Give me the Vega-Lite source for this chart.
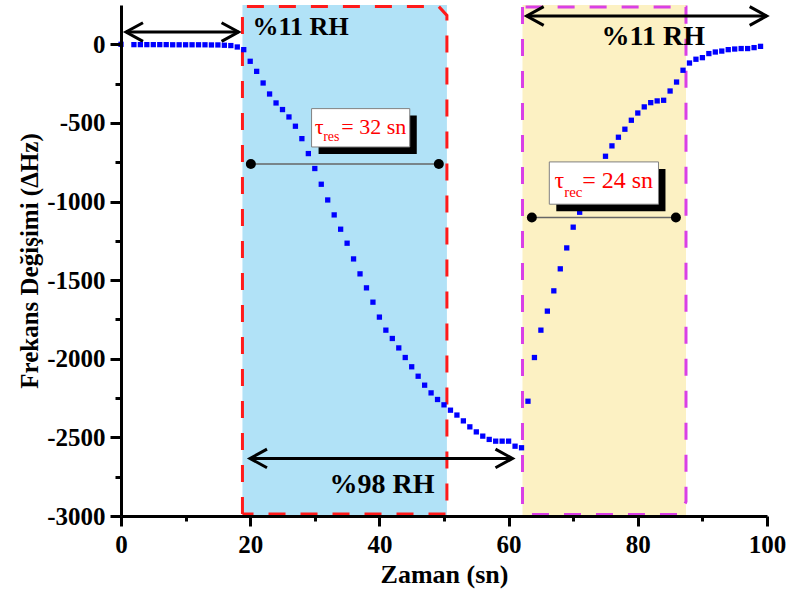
{
  "$schema": "https://vega.github.io/schema/vega-lite/v6.json",
  "width": 646,
  "height": 511,
  "autosize": {"type": "none"},
  "padding": {"left": 121, "top": 5, "right": 25, "bottom": 81},
  "background": "white",
  "config": {"view": {"stroke": null}, "font": "Liberation Serif"},
  "datasets": {
    "pts": [
      {"t": 0, "f": 0}, {"t": 2, "f": -2}, {"t": 3, "f": -2}, {"t": 4, "f": -2}, {"t": 5, "f": -2}, {"t": 6, "f": -2}, {"t": 7, "f": -2}, {"t": 8, "f": -3}, {"t": 9, "f": -3}, {"t": 10, "f": -3}, {"t": 11, "f": -3}, {"t": 12, "f": -3}, {"t": 13, "f": -3}, {"t": 14, "f": -4}, {"t": 15, "f": -4}, {"t": 16, "f": -6}, {"t": 17, "f": -8},
      {"t": 18, "f": -17}, {"t": 19, "f": -34}, {"t": 20, "f": -108}, {"t": 21, "f": -172}, {"t": 22, "f": -246}, {"t": 23, "f": -316}, {"t": 24, "f": -373}, {"t": 25, "f": -415}, {"t": 26, "f": -462}, {"t": 27, "f": -521}, {"t": 28, "f": -600}, {"t": 29, "f": -695}, {"t": 30, "f": -790}, {"t": 31, "f": -890}, {"t": 32, "f": -990}, {"t": 33, "f": -1085}, {"t": 34, "f": -1176}, {"t": 35, "f": -1265}, {"t": 36, "f": -1365}, {"t": 37, "f": -1460}, {"t": 38, "f": -1549}, {"t": 39, "f": -1640}, {"t": 40, "f": -1735}, {"t": 41, "f": -1818}, {"t": 42, "f": -1871}, {"t": 43, "f": -1931}, {"t": 44, "f": -1992}, {"t": 45, "f": -2051}, {"t": 46, "f": -2111}, {"t": 47, "f": -2168}, {"t": 48, "f": -2217}, {"t": 49, "f": -2259}, {"t": 50, "f": -2293}, {"t": 51, "f": -2327}, {"t": 52, "f": -2358}, {"t": 53, "f": -2395}, {"t": 54, "f": -2433}, {"t": 55, "f": -2465}, {"t": 56, "f": -2492}, {"t": 57, "f": -2513}, {"t": 58, "f": -2524}, {"t": 59, "f": -2524}, {"t": 60, "f": -2524}, {"t": 61, "f": -2556}, {"t": 62, "f": -2566},
      {"t": 63, "f": -2270}, {"t": 64, "f": -1992}, {"t": 65, "f": -1818}, {"t": 66, "f": -1697}, {"t": 67, "f": -1568}, {"t": 68, "f": -1428}, {"t": 69, "f": -1295}, {"t": 70, "f": -1163}, {"t": 71, "f": -1068}, {"t": 72, "f": -975}, {"t": 73, "f": -885}, {"t": 74, "f": -797}, {"t": 75, "f": -712}, {"t": 76, "f": -646}, {"t": 77, "f": -591}, {"t": 78, "f": -540}, {"t": 79, "f": -483}, {"t": 80, "f": -437}, {"t": 81, "f": -398}, {"t": 82, "f": -371}, {"t": 83, "f": -360}, {"t": 84, "f": -356}, {"t": 85, "f": -297}, {"t": 86, "f": -240}, {"t": 87, "f": -165}, {"t": 88, "f": -119}, {"t": 89, "f": -95}, {"t": 90, "f": -85}, {"t": 91, "f": -59}, {"t": 92, "f": -49}, {"t": 93, "f": -43}, {"t": 94, "f": -34}, {"t": 95, "f": -30}, {"t": 96, "f": -27}, {"t": 97, "f": -27}, {"t": 98, "f": -21}, {"t": 99, "f": -13}
    ],
    "zones": [
      {"zone": "res", "t1": 18.8, "t2": 50.45, "f1": -3000, "f2": 250},
      {"zone": "rec", "t1": 62.15, "t2": 87.46, "f1": -3000, "f2": 250}
    ],
    "borders": [
      {"zone": "res", "o": 1, "t": 18.8, "f": -2988},
      {"zone": "res", "o": 2, "t": 18.8, "f": 240},
      {"zone": "res", "o": 3, "t": 49.2, "f": 240},
      {"zone": "res", "o": 4, "t": 50.45, "f": 184},
      {"zone": "res", "o": 5, "t": 50.45, "f": -2988},
      {"zone": "res", "o": 6, "t": 18.8, "f": -2988},
      {"zone": "rec", "o": 1, "t": 62.15, "f": 237},
      {"zone": "rec", "o": 2, "t": 62.15, "f": -2941},
      {"zone": "rec", "o": 3, "t": 63.55, "f": -2990},
      {"zone": "rec", "o": 4, "t": 86.5, "f": -2990},
      {"zone": "rec", "o": 5, "t": 87.46, "f": -2909},
      {"zone": "rec", "o": 6, "t": 87.46, "f": 237},
      {"zone": "rec", "o": 7, "t": 62.15, "f": 237}
    ],
    "arrows": [
      {"t1": 0.77, "t2": 18.2, "f": 78},
      {"t1": 62.8, "t2": 99.95, "f": 180},
      {"t1": 19.97, "t2": 60.6, "f": -2634}
    ],
    "rh": [
      {"size": "small", "t": 27.8, "f": 57, "text": "%11 RH"},
      {"size": "big", "t": 82.4, "f": -6, "text": "%11 RH"},
      {"size": "big", "t": 40.4, "f": -2854, "text": "%98 RH"}
    ],
    "tau": [
      {"zone": "res", "t1": 20.1, "t2": 49.2, "f": -761},
      {"zone": "rec", "t1": 63.6, "t2": 85.9, "f": -1102}
    ],
    "boxes": [
      {"zone": "res", "t1": 29.5, "t2": 44.7, "f1": -409, "f2": -653},
      {"zone": "rec", "t1": 66.3, "t2": 83.2, "f1": -748, "f2": -1017}
    ],
    "tautext": [
      {"zone": "res", "part": "main", "t": 30.0, "f": -568, "text": "τ"},
      {"zone": "res", "part": "sub", "t": 31.3, "f": -612, "text": "res"},
      {"zone": "res", "part": "main", "t": 34.1, "f": -568, "text": "= 32 sn"},
      {"zone": "rec", "part": "main", "t": 67.1, "f": -917, "text": "τ"},
      {"zone": "rec", "part": "sub", "t": 68.6, "f": -972, "text": "rec"},
      {"zone": "rec", "part": "main", "t": 71.4, "f": -917, "text": "= 24 sn"}
    ]
  },
  "encoding": {
    "x": {
      "type": "quantitative",
      "scale": {"domain": [0, 100], "nice": false, "zero": false},
      "axis": {
        "title": "Zaman (sn)",
        "values": [0, 10, 20, 30, 40, 50, 60, 70, 80, 90, 100],
        "labelExpr": "datum.value % 20 === 0 ? '' + datum.value : ''",
        "tickSize": {"condition": {"test": "datum.value % 20 !== 0", "value": 5}, "value": 10},
        "tickWidth": 3, "tickColor": "black",
        "domainWidth": 3, "domainColor": "black",
        "labelFont": "Liberation Serif", "labelFontWeight": "bold", "labelFontSize": 25, "labelColor": "black", "labelPadding": 6,
        "titleFont": "Liberation Serif", "titleFontWeight": "bold", "titleFontSize": 26, "titleColor": "black", "titlePadding": 4,
        "grid": false, "zindex": 1, "labelFlush": false, "labelOverlap": false
      }
    },
    "y": {
      "type": "quantitative",
      "scale": {"domain": [-3000, 250], "nice": false, "zero": false},
      "axis": {
        "title": "Frekans Değişimi (ΔHz)",
        "values": [-3000, -2750, -2500, -2250, -2000, -1750, -1500, -1250, -1000, -750, -500, -250, 0],
        "labelExpr": "datum.value % 500 === 0 ? '' + datum.value : ''",
        "tickSize": {"condition": {"test": "datum.value % 500 !== 0", "value": 6}, "value": 11},
        "tickWidth": 3, "tickColor": "black",
        "domainWidth": 3, "domainColor": "black",
        "labelFont": "Liberation Serif", "labelFontWeight": "bold", "labelFontSize": 25, "labelColor": "black", "labelPadding": 5,
        "titleFont": "Liberation Serif", "titleFontWeight": "bold", "titleFontSize": 25, "titleColor": "black", "titlePadding": 4,
        "grid": false, "zindex": 1, "labelFlush": false, "labelOverlap": false
      }
    }
  },
  "layer": [
    {
      "data": {"name": "zones"},
      "transform": [{"filter": "datum.zone === 'res'"}],
      "mark": {"type": "rect", "color": "#b1e2f7"},
      "encoding": {"x": {"field": "t1"}, "x2": {"field": "t2"}, "y": {"field": "f1"}, "y2": {"field": "f2"}}
    },
    {
      "data": {"name": "zones"},
      "transform": [{"filter": "datum.zone === 'rec'"}],
      "mark": {"type": "rect", "color": "#fcf1c3"},
      "encoding": {"x": {"field": "t1"}, "x2": {"field": "t2"}, "y": {"field": "f1"}, "y2": {"field": "f2"}}
    },
    {
      "data": {"name": "borders"},
      "transform": [{"filter": "datum.zone === 'res'"}],
      "mark": {"type": "line", "color": "#ff1a1a", "strokeWidth": 3, "strokeDash": [17, 15]},
      "encoding": {"x": {"field": "t"}, "y": {"field": "f"}, "order": {"field": "o"}}
    },
    {
      "data": {"name": "borders"},
      "transform": [{"filter": "datum.zone === 'rec'"}],
      "mark": {"type": "line", "color": "#d93fe6", "strokeWidth": 3, "strokeDash": [17, 15]},
      "encoding": {"x": {"field": "t"}, "y": {"field": "f"}, "order": {"field": "o"}}
    },
    {
      "data": {"name": "arrows"},
      "mark": {"type": "rule", "color": "black", "strokeWidth": 3},
      "encoding": {"x": {"field": "t1"}, "x2": {"field": "t2"}, "y": {"field": "f"}}
    },
    {
      "data": {"name": "arrows"},
      "mark": {"type": "point", "shape": "M -1 -0.55 L 0 0 L -1 0.55", "size": 1156, "filled": false, "stroke": "black", "strokeWidth": 3, "opacity": 1, "angle": 180},
      "encoding": {"x": {"field": "t1"}, "y": {"field": "f"}}
    },
    {
      "data": {"name": "arrows"},
      "mark": {"type": "point", "shape": "M -1 -0.55 L 0 0 L -1 0.55", "size": 1156, "filled": false, "stroke": "black", "strokeWidth": 3, "opacity": 1, "angle": 0},
      "encoding": {"x": {"field": "t2"}, "y": {"field": "f"}}
    },
    {
      "data": {"name": "tau"},
      "mark": {"type": "rule", "color": "#666666", "strokeWidth": 1.5},
      "encoding": {"x": {"field": "t1"}, "x2": {"field": "t2"}, "y": {"field": "f"}}
    },
    {
      "data": {"name": "pts"},
      "mark": {"type": "point", "shape": "square", "filled": true, "color": "#0000ff", "size": 28, "opacity": 1},
      "encoding": {"x": {"field": "t"}, "y": {"field": "f"}}
    },
    {
      "data": {"name": "tau"},
      "mark": {"type": "point", "shape": "circle", "filled": true, "color": "black", "size": 100, "opacity": 1},
      "encoding": {"x": {"field": "t1"}, "y": {"field": "f"}}
    },
    {
      "data": {"name": "tau"},
      "mark": {"type": "point", "shape": "circle", "filled": true, "color": "black", "size": 100, "opacity": 1},
      "encoding": {"x": {"field": "t2"}, "y": {"field": "f"}}
    },
    {
      "data": {"name": "boxes"},
      "mark": {"type": "rect", "color": "black", "xOffset": 7, "x2Offset": 7, "yOffset": 7, "y2Offset": 7},
      "encoding": {"x": {"field": "t1"}, "x2": {"field": "t2"}, "y": {"field": "f1"}, "y2": {"field": "f2"}}
    },
    {
      "data": {"name": "boxes"},
      "mark": {"type": "rect", "fill": "white", "stroke": "#808080", "strokeWidth": 1},
      "encoding": {"x": {"field": "t1"}, "x2": {"field": "t2"}, "y": {"field": "f1"}, "y2": {"field": "f2"}}
    },
    {
      "data": {"name": "tautext"},
      "transform": [{"filter": "datum.zone === 'res' && datum.part === 'main'"}],
      "mark": {"type": "text", "font": "Liberation Serif", "fontWeight": "normal", "fontSize": 22, "color": "#ff0000", "align": "left", "baseline": "alphabetic"},
      "encoding": {"x": {"field": "t"}, "y": {"field": "f"}, "text": {"field": "text"}}
    },
    {
      "data": {"name": "tautext"},
      "transform": [{"filter": "datum.zone === 'res' && datum.part === 'sub'"}],
      "mark": {"type": "text", "font": "Liberation Serif", "fontWeight": "normal", "fontSize": 14, "color": "#ff0000", "align": "left", "baseline": "alphabetic"},
      "encoding": {"x": {"field": "t"}, "y": {"field": "f"}, "text": {"field": "text"}}
    },
    {
      "data": {"name": "tautext"},
      "transform": [{"filter": "datum.zone === 'rec' && datum.part === 'main'"}],
      "mark": {"type": "text", "font": "Liberation Serif", "fontWeight": "normal", "fontSize": 24, "color": "#ff0000", "align": "left", "baseline": "alphabetic"},
      "encoding": {"x": {"field": "t"}, "y": {"field": "f"}, "text": {"field": "text"}}
    },
    {
      "data": {"name": "tautext"},
      "transform": [{"filter": "datum.zone === 'rec' && datum.part === 'sub'"}],
      "mark": {"type": "text", "font": "Liberation Serif", "fontWeight": "normal", "fontSize": 15, "color": "#ff0000", "align": "left", "baseline": "alphabetic"},
      "encoding": {"x": {"field": "t"}, "y": {"field": "f"}, "text": {"field": "text"}}
    },
    {
      "data": {"name": "rh"},
      "transform": [{"filter": "datum.size === 'small'"}],
      "mark": {"type": "text", "font": "Liberation Serif", "fontWeight": "bold", "fontSize": 26, "color": "black", "align": "center", "baseline": "alphabetic"},
      "encoding": {"x": {"field": "t"}, "y": {"field": "f"}, "text": {"field": "text"}}
    },
    {
      "data": {"name": "rh"},
      "transform": [{"filter": "datum.size === 'big'"}],
      "mark": {"type": "text", "font": "Liberation Serif", "fontWeight": "bold", "fontSize": 28, "color": "black", "align": "center", "baseline": "alphabetic"},
      "encoding": {"x": {"field": "t"}, "y": {"field": "f"}, "text": {"field": "text"}}
    },
    {
      "mark": {"type": "rule", "color": "black", "strokeWidth": 3},
      "encoding": {"y": {"datum": 250}}
    },
    {
      "mark": {"type": "rule", "color": "black", "strokeWidth": 3},
      "encoding": {"x": {"datum": 100}}
    }
  ]
}
